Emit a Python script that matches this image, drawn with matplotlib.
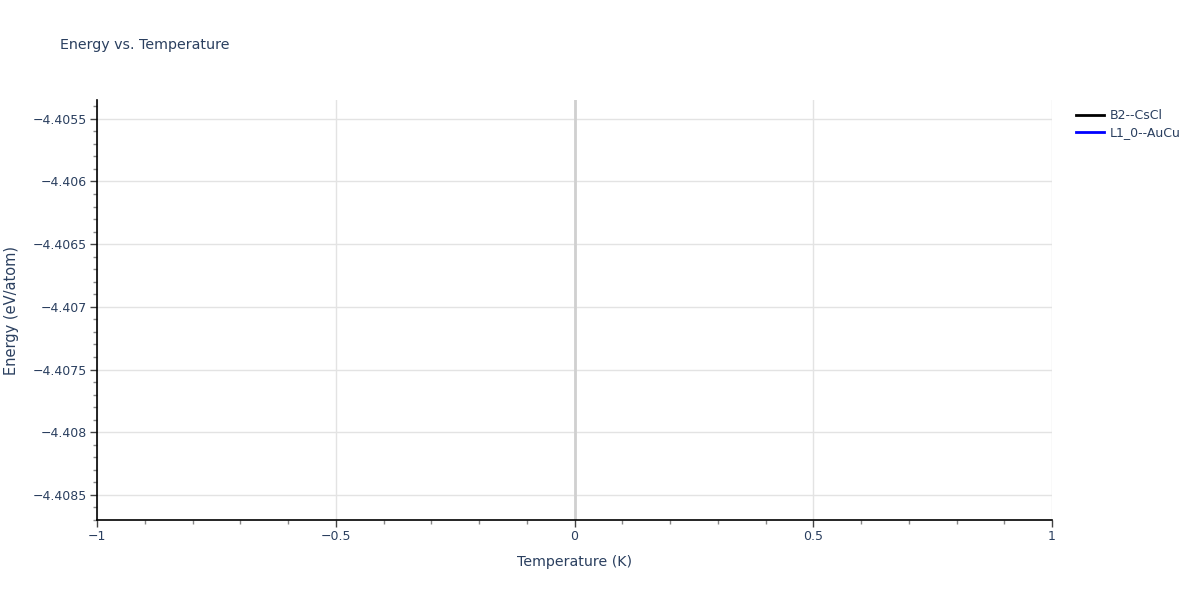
from matplotlib import pyplot as plt
from matplotlib.ticker import FixedLocator, FuncFormatter, MultipleLocator
import numpy as np

# each structure only has one point at T = 0 K, so the line is not visible
temperature_b2 = [0.0]
energy_b2 = [-4.40702]
temperature_l10 = [0.0]
energy_l10 = [-4.40702]

series_names = ['B2--CsCl', 'L1_0--AuCu']
series_colors = ['black', 'blue']

x_ticks = [-1, -0.5, 0, 0.5, 1]
y_ticks = [-4.4085, -4.408, -4.4075, -4.407, -4.4065, -4.406, -4.4055]

font_color = '#2a3f5f'
plt.rcParams['font.family'] = ['DejaVu Sans']

fig = plt.figure(figsize=(12, 6), dpi=100)
ax = fig.add_axes([97 / 1200, 1 - 520 / 600, (1052 - 97) / 1200, 420 / 600])

ax.plot(temperature_b2, energy_b2, color=series_colors[0], linewidth=2, label=series_names[0])
ax.plot(temperature_l10, energy_l10, color=series_colors[1], linewidth=2, label=series_names[1])

ax.set_xlim(-1, 1)
ax.set_ylim(-4.4087, -4.40535)

ax.xaxis.set_major_locator(FixedLocator(x_ticks))
ax.yaxis.set_major_locator(FixedLocator(y_ticks))
ax.xaxis.set_minor_locator(MultipleLocator(0.1))
ax.yaxis.set_minor_locator(MultipleLocator(0.0001))


def fmt(v, pos):
    s = ('%.4f' % v).rstrip('0').rstrip('.')
    if s in ('-0', '0'):
        return '0'
    return s.replace('-', '\u2212')


ax.xaxis.set_major_formatter(FuncFormatter(fmt))
ax.yaxis.set_major_formatter(FuncFormatter(fmt))

ax.grid(True, which='major', color='#e3e3e3', linewidth=1)
ax.axvline(0, color='#d0d0d0', linewidth=2, zorder=1)
ax.set_axisbelow(True)

for side in ['top', 'right']:
    ax.spines[side].set_visible(False)
for side in ['left', 'bottom']:
    ax.spines[side].set_color('black')
    ax.spines[side].set_linewidth(1.2)

ax.tick_params(which='major', direction='out', length=5, width=1, color='#444444',
               labelsize=9, labelcolor=font_color, pad=2)
ax.tick_params(which='minor', direction='out', length=3, width=1, color='#888888')

ax.set_xlabel('Temperature (K)', fontsize=10.2, color=font_color, labelpad=9)
ax.set_ylabel('Energy (eV/atom)', fontsize=10.5, color=font_color, labelpad=10)
fig.text(60 / 1200, 1 - 45 / 600, 'Energy vs. Temperature', fontsize=10.3,
         color=font_color, va='center', ha='left')

ax.legend(loc='upper left', bbox_to_anchor=(1.02, 0.99), frameon=False, fontsize=9,
          handlelength=2.2, handletextpad=0.5, labelspacing=0.3, labelcolor=font_color,
          borderaxespad=0)

fig.savefig('out.png', dpi=100)
